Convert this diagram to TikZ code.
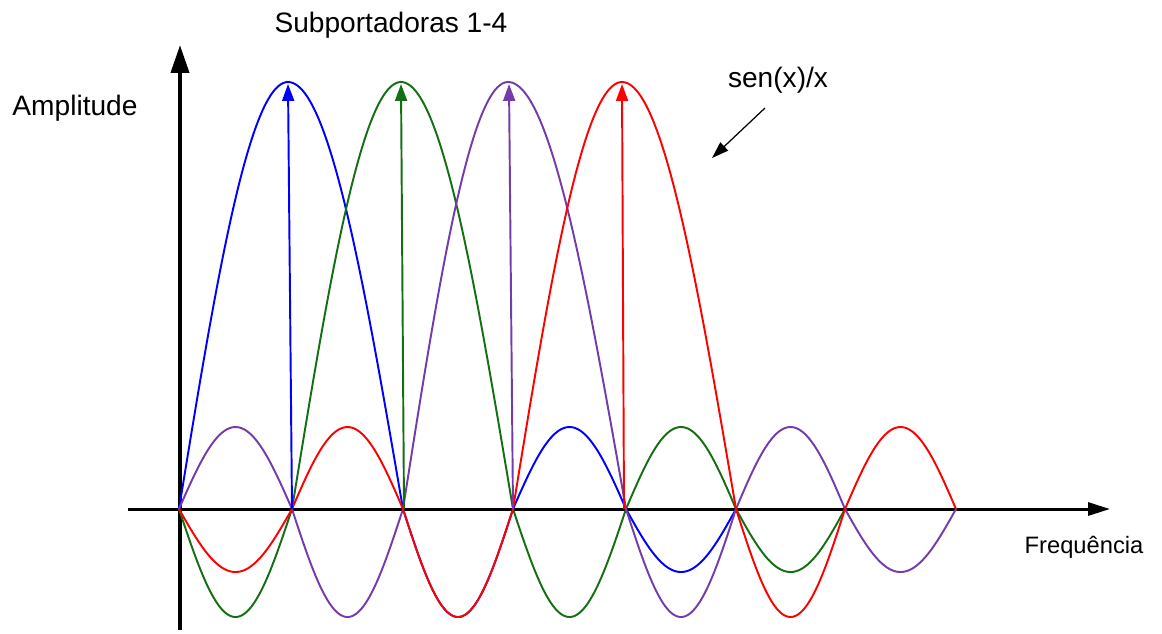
\documentclass[tikz,border=0pt]{standalone}
\usepackage{fontspec}
\setmainfont{Liberation Sans}
\usetikzlibrary{arrows.meta}
\definecolor{cblue}{RGB}{0,0,255}
\definecolor{cgreen}{RGB}{20,110,20}
\definecolor{cpurple}{RGB}{115,60,170}
\definecolor{cred}{RGB}{255,0,0}
\newcommand\lobe[4]{\draw[curve,#1] plot[domain=#2:#3,samples=60,smooth] (\x,{509-(#4)*sin(((\x-#2)/(#3-#2))*180)});}
\newcommand\mainlobe[4]{\draw[curve,#1] plot[domain=#2:#3,samples=50,smooth] (\x,{509-427*sin(((\x-#2)/(#3-#2))*90)}) -- plot[domain=#3:#4,samples=50,smooth] (\x,{509-427*cos(((\x-#3)/(#4-#3))*90)});}
\tikzset{
  curve/.style={line width=1.1pt},
  carrier/.style={line width=1.1pt,-{Triangle[length=9.6pt,width=6.8pt]}},
  lbl/.style={anchor=base,inner sep=0pt,font=\fontsize{16}{19}\selectfont},
}
\begin{document}
\begin{tikzpicture}[x=0.02cm,y=-0.02cm]
\path[use as bounding box] (0,0) rectangle (1162,633);
% axes
\coordinate (yb) at (180,630);
\coordinate (yt) at (180,45);
\coordinate (xl) at (128,509);
\coordinate (xr) at (1110,509);
\draw[line width=2.3pt,-{Triangle[length=15.9pt,width=10.2pt]}] (yb) -- (yt);
\draw[line width=1.7pt,-{Triangle[length=12.5pt,width=7.4pt]}] (xl) -- (xr);
% blue
\mainlobe{cblue}{179}{288}{403}
\lobe{cblue}{403}{513}{-108}
\lobe{cblue}{513}{626}{82}
\lobe{cblue}{626}{736}{-63}
% green
\mainlobe{cgreen}{292}{401}{513}
\lobe{cgreen}{179}{292}{-108}
\lobe{cgreen}{513}{626}{-108}
\lobe{cgreen}{626}{736}{82}
\lobe{cgreen}{736}{845}{-63}
% purple
\mainlobe{cpurple}{403}{508}{626}
\lobe{cpurple}{179}{292}{82}
\lobe{cpurple}{292}{403}{-108}
\lobe{cpurple}{626}{736}{-108}
\lobe{cpurple}{736}{845}{82}
\lobe{cpurple}{845}{956}{-63}
% red
\mainlobe{cred}{513}{622}{736}
\lobe{cred}{179}{292}{-63}
\lobe{cred}{292}{403}{82}
\lobe{cred}{403}{513}{-108}
\lobe{cred}{736}{845}{-108}
\lobe{cred}{845}{956}{82}
% carrier arrows
\coordinate (b1) at (292,509); \coordinate (t1) at (288,84);
\coordinate (b2) at (404,509); \coordinate (t2) at (401,84);
\coordinate (b3) at (513,509); \coordinate (t3) at (509,84);
\coordinate (b4) at (624,509); \coordinate (t4) at (622,84);
\draw[carrier,cblue] (b1) -- (t1);
\draw[carrier,cgreen] (b2) -- (t2);
\draw[carrier,cpurple] (b3) -- (t3);
\draw[carrier,cred] (b4) -- (t4);
% labels
\node[lbl] (sub) at (391,32) {Subportadoras 1-4};
\node[lbl] (amp) at (75,115) {Amplitude};
\node[lbl] (sinc) at (778,87) {sen(x)/x};
\node[lbl,font=\fontsize{13.5}{16}\selectfont] (freq) at (1084,553) {Frequência};
\coordinate (s1) at (765,108);
\coordinate (s2) at (712,158);
\draw[line width=0.7pt,-{Triangle[length=9.6pt,width=6.4pt]}] (s1) -- (s2);
\end{tikzpicture}
\end{document}
